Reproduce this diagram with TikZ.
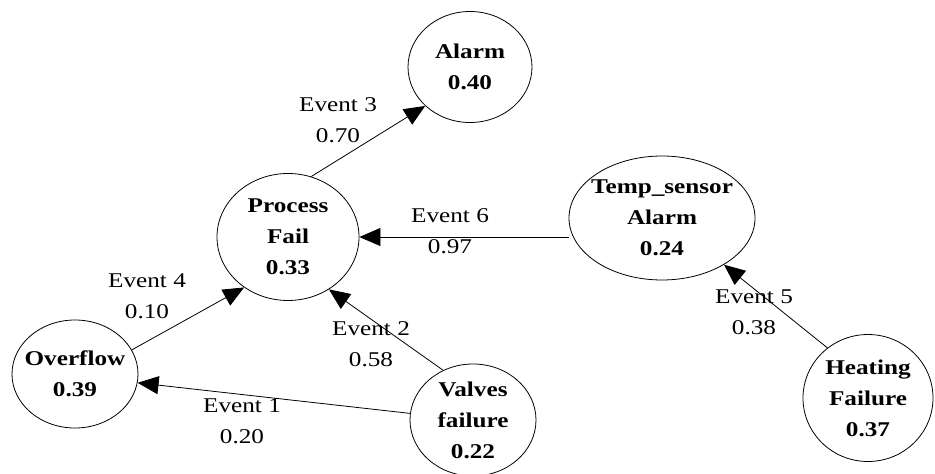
\documentclass[tikz,border=0pt]{standalone}
\usepackage{fontspec}
\setmainfont{Liberation Serif}[FakeStretch=1.2]
\usetikzlibrary{shapes.geometric,arrows.meta}
\tikzset{
  state/.style={ellipse, draw, line width=0.8pt, inner sep=-6pt, align=center,
    font=\fontsize{21}{31}\selectfont\bfseries},
  evlabel/.style={align=center, inner sep=0pt, font=\fontsize{21}{31}\selectfont},
  evarrow/.style={-{Triangle[length=21pt,width=18pt]}, line width=0.8pt},
}
\begin{document}
\begin{tikzpicture}[x=1pt,y=-1pt]
    \useasboundingbox (0,0) rectangle (935,474);
    \node[state, minimum width=124pt, minimum height=111pt] (alarm) at (470,67) {Alarm\\0.40};
    \node[state, minimum width=142pt, minimum height=127pt] (pf) at (288,237) {Process\\Fail\\0.33};
    \node[state, minimum width=186pt, minimum height=124pt] (temp) at (662,218) {Temp\_sensor\\Alarm\\0.24};
    \node[state, minimum width=126pt, minimum height=108pt] (over) at (75,374) {Overflow\\0.39};
    \node[state, minimum width=126pt, minimum height=112pt] (valves) at (473,420) {Valves\\failure\\0.22};
    \node[state, minimum width=130pt, minimum height=127pt] (heat) at (868,398) {Heating\\Failure\\0.37};
    \draw[evarrow] (pf.69) -- (alarm.221);
    \draw[evarrow] (pf.east -| temp.west) -- (pf.east);
    \draw[evarrow] (over.23) -- (pf.229);
    \draw[evarrow] (valves.121) -- (pf.308);
    \draw[evarrow] (valves.174) -- (over.352);
    \draw[evarrow] (heat.129) -- (temp.323);
    \node[evlabel] (ev3) at (338,120) {Event 3\\0.70};
    \node[evlabel] (ev6) at (450,231) {Event 6\\0.97};
    \node[evlabel] (ev4) at (147,296) {Event 4\\0.10};
    \node[evlabel] (ev2) at (371,344) {Event 2\\0.58};
    \node[evlabel] (ev1) at (242,421) {Event 1\\0.20};
    \node[evlabel] (ev5) at (754,312) {Event 5\\0.38};
\end{tikzpicture}
\end{document}
